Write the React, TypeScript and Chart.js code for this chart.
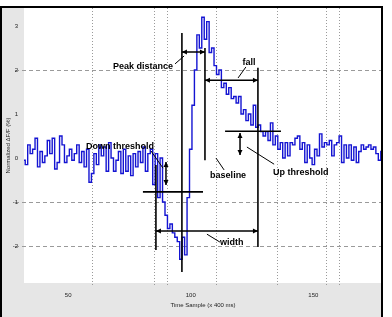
import React, { useEffect, useRef } from 'react';
import { Chart, registerables } from 'chart.js';
Chart.register(...registerables);

// ---- data ----
const sampleStart = 32;
const signal: number[] = [
  // baseline
  -0.05, -0.15, 0.3, 0.1, 0.2, 0.45, -0.2, 0.15, -0.1, 0.05,
  0.4, 0.1, 0.45, -0.25, -0.1, 0.5, 0.3, -0.1, 0.05, 0.2,
  -0.05, 0.1, 0.3, -0.1, 0.15, -0.2, 0.2, -0.55, -0.35, 0.1,
  -0.15, 0.3, 0.05, 0.25, -0.3, 0.35, 0.0, -0.3, -0.05, 0.15,
  -0.35, 0.2, -0.3, 0.05, -0.4, 0.1, -0.2, 0.15, -0.1, 0.25,
  -0.3, 0.1,
  // dip
  0.2, -0.6, 0.1, -0.9, 0.0, -1.0, -1.3, -1.6, -1.5, -1.7,
  -1.8, -1.9, -2.3, -1.8, -2.2,
  // rise and peak
  -0.9, 0.2, 1.2, 2.0, 2.8, 2.5, 3.2, 2.7, 3.1,
  // fall
  2.4, 2.5, 2.1, 1.9, 2.0, 1.6, 1.7, 1.45, 1.6, 1.35,
  1.4, 1.25, 1.4, 1.0, 1.1, 0.85, 1.0, 0.75, 1.2, 0.7,
  0.75, 0.6, 0.5,
  // tail
  0.6, 0.4, 0.8, 0.3, 0.5, 0.2, 0.35, 0.0, 0.35, 0.05,
  0.35, 0.3, 0.45, 0.5, 0.2, 0.35, -0.1, 0.3, 0.0, -0.15,
  0.2, 0.05, 0.55, 0.25, 0.35, 0.3, 0.4, 0.05, 0.3, 0.35,
  0.5, -0.1, 0.3, 0.0, 0.3, -0.05, 0.25, -0.1, 0.15, 0.3,
  0.2, 0.25, 0.3, 0.2, 0.25, 0.1, -0.05, 0.15,
];

const xTickValues = [50, 100, 150];
const xTickLabels = ['50', '100', '150'];
const yTickValues = [3, 2, 1, 0, -1, -2];
const yTickLabels = ['3', '2', '1', '0', '-1', '-2'];
const xGridValues = [59.7, 85, 90.3, 110.3, 135.2, 155.2, 160.5];
const yGridValues = [2, -1, -2];

const xTitle = 'Time Sample (x 400 ms)';
const yTitle = 'Normalized \u0394F/F (%)';

// annotation geometry, in data units [x1, y1, x2, y2]
const markerLines: number[][] = [
  [96.4, 2.84, 96.4, -2.59],
  [105.8, 2.5, 105.8, -0.05],
  [127.4, 2.05, 127.4, -2.02],
  [85.8, -0.16, 85.8, -2.09],
  [114, 0.61, 136.8, 0.61],
  [80.5, -0.77, 105, -0.77],
];
const doubleArrows: number[][] = [
  [96.4, 2.41, 105.8, 2.41],
  [105.8, 1.77, 127.4, 1.77],
  [120.1, 0.57, 120.1, 0.07],
  [89.9, -0.09, 89.9, -0.61],
  [85.8, -1.66, 127.4, -1.66],
];
const leaderLines: number[][] = [
  [93.6, 2.14, 97.3, 2.32],
  [122.5, 2.07, 119.3, 1.82],
  [122.9, 0.25, 134, -0.14],
  [83.8, 0.16, 88.7, -0.23],
  [106.6, -1.73, 111.9, -1.91],
  [110.3, 0.0, 113.6, -0.27],
];
const annotationTexts = ['Peak distance', 'fall', 'Up threshold', 'Down threshold', 'width', 'baseline'];
const annotationX = [92.8, 123.8, 133.5, 85, 111.9, 107.9];
const annotationY = [2.09, 2.18, -0.32, 0.27, -1.93, -0.39];
const annotationAlign: CanvasTextAlign[] = ['right', 'center', 'left', 'right', 'left', 'left'];

const decorPlugin = {
  id: 'decor',
  beforeDraw(chart: any) {
    const { ctx, chartArea: a, width, height } = chart;
    const xs = chart.scales.x;
    const ys = chart.scales.y;
    ctx.save();
    ctx.fillStyle = '#ffffff';
    ctx.fillRect(0, 0, width, height);
    ctx.fillStyle = '#e6e6e6';
    ctx.fillRect(2, 8, a.right - 2, height - 8);
    ctx.fillStyle = '#ffffff';
    ctx.fillRect(a.left, a.top, a.right - a.left, a.bottom - a.top);
    // grid
    ctx.strokeStyle = '#9a9a9a';
    ctx.lineWidth = 1;
    ctx.setLineDash([1, 2]);
    xGridValues.forEach((v) => {
      const x = Math.round(xs.getPixelForValue(v)) + 0.5;
      ctx.beginPath();
      ctx.moveTo(x, a.top);
      ctx.lineTo(x, a.bottom + 4);
      ctx.stroke();
    });
    ctx.setLineDash([4, 3]);
    yGridValues.forEach((v) => {
      const y = Math.round(ys.getPixelForValue(v)) + 0.5;
      ctx.beginPath();
      ctx.moveTo(a.left - 9, y);
      ctx.lineTo(a.right, y);
      ctx.stroke();
    });
    ctx.restore();
  },
  afterDatasetsDraw(chart: any) {
    const { ctx, chartArea: a, height } = chart;
    const xs = chart.scales.x;
    const ys = chart.scales.y;
    const P = (x: number, y: number) => [xs.getPixelForValue(x), ys.getPixelForValue(y)];
    ctx.save();
    ctx.strokeStyle = '#000';
    ctx.fillStyle = '#000';
    ctx.setLineDash([]);
    ctx.lineWidth = 1.6;
    markerLines.forEach(([x1, y1, x2, y2]) => {
      const [a1, b1] = P(x1, y1);
      const [a2, b2] = P(x2, y2);
      ctx.beginPath();
      ctx.moveTo(a1, b1);
      ctx.lineTo(a2, b2);
      ctx.stroke();
    });
    const head = (tx: number, ty: number, fx: number, fy: number) => {
      const ang = Math.atan2(ty - fy, tx - fx);
      const L = 5, W = 2.5;
      ctx.beginPath();
      ctx.moveTo(tx, ty);
      ctx.lineTo(tx - L * Math.cos(ang) + W * Math.sin(ang), ty - L * Math.sin(ang) - W * Math.cos(ang));
      ctx.lineTo(tx - L * Math.cos(ang) - W * Math.sin(ang), ty - L * Math.sin(ang) + W * Math.cos(ang));
      ctx.closePath();
      ctx.fill();
    };
    ctx.lineWidth = 1.5;
    doubleArrows.forEach(([x1, y1, x2, y2]) => {
      const [a1, b1] = P(x1, y1);
      const [a2, b2] = P(x2, y2);
      ctx.beginPath();
      ctx.moveTo(a1, b1);
      ctx.lineTo(a2, b2);
      ctx.stroke();
      head(a1, b1, a2, b2);
      head(a2, b2, a1, b1);
    });
    ctx.lineWidth = 1;
    leaderLines.forEach(([x1, y1, x2, y2]) => {
      const [a1, b1] = P(x1, y1);
      const [a2, b2] = P(x2, y2);
      ctx.beginPath();
      ctx.moveTo(a1, b1);
      ctx.lineTo(a2, b2);
      ctx.stroke();
    });
    ctx.font = 'bold 9px "Liberation Sans", Arial, sans-serif';
    ctx.textBaseline = 'middle';
    annotationTexts.forEach((t, i) => {
      const [x, y] = P(annotationX[i], annotationY[i]);
      ctx.textAlign = annotationAlign[i];
      ctx.fillText(t, x, y);
    });
    // frame
    ctx.lineWidth = 2;
    ctx.beginPath();
    ctx.moveTo(1, height);
    ctx.lineTo(1, 7);
    ctx.lineTo(a.right, 7);
    ctx.lineTo(a.right, height);
    ctx.stroke();
    // tick labels & titles
    ctx.fillStyle = '#222';
    ctx.font = '6px "Liberation Sans", Arial, sans-serif';
    ctx.textAlign = 'center';
    ctx.textBaseline = 'middle';
    xTickValues.forEach((v, i) => {
      ctx.fillText(xTickLabels[i], xs.getPixelForValue(v), 295);
    });
    ctx.textAlign = 'right';
    yTickValues.forEach((v, i) => {
      ctx.fillText(yTickLabels[i], a.left - 6, ys.getPixelForValue(v));
    });
    ctx.textAlign = 'center';
    ctx.fillText(xTitle, (a.left + a.right) / 2, 305);
    ctx.translate(8, (a.top + a.bottom) / 2);
    ctx.rotate(-Math.PI / 2);
    ctx.fillText(yTitle, 0, 0);
    ctx.restore();
  },
};

export default function App() {
  const ref = useRef<HTMLCanvasElement | null>(null);
  useEffect(() => {
    if (!ref.current) return;
    const chart = new Chart(ref.current, {
      type: 'line',
      data: {
        datasets: [
          {
            data: signal.map((v, i) => ({ x: sampleStart + i, y: v })),
            borderColor: '#1414d2',
            borderWidth: 1.4,
            pointRadius: 0,
            stepped: 'middle',
            fill: false,
          },
        ],
      },
      options: {
        animation: false,
        responsive: false,
        devicePixelRatio: 1,
        layout: { padding: { left: 24, right: 10, top: 8, bottom: 34 } },
        plugins: { legend: { display: false }, tooltip: { enabled: false } },
        scales: {
          x: { type: 'linear', min: 32, max: 178, display: false },
          y: { type: 'linear', min: -2.84, max: 3.41, display: false },
        },
      },
      plugins: [decorPlugin],
    });
    return () => chart.destroy();
  }, []);
  return (
    <div style={{ position: 'fixed', left: 0, top: 0, width: 392, height: 317 }}>
      <canvas ref={ref} width={392} height={317} style={{ width: 392, height: 317, display: 'block' }} />
    </div>
  );
}
